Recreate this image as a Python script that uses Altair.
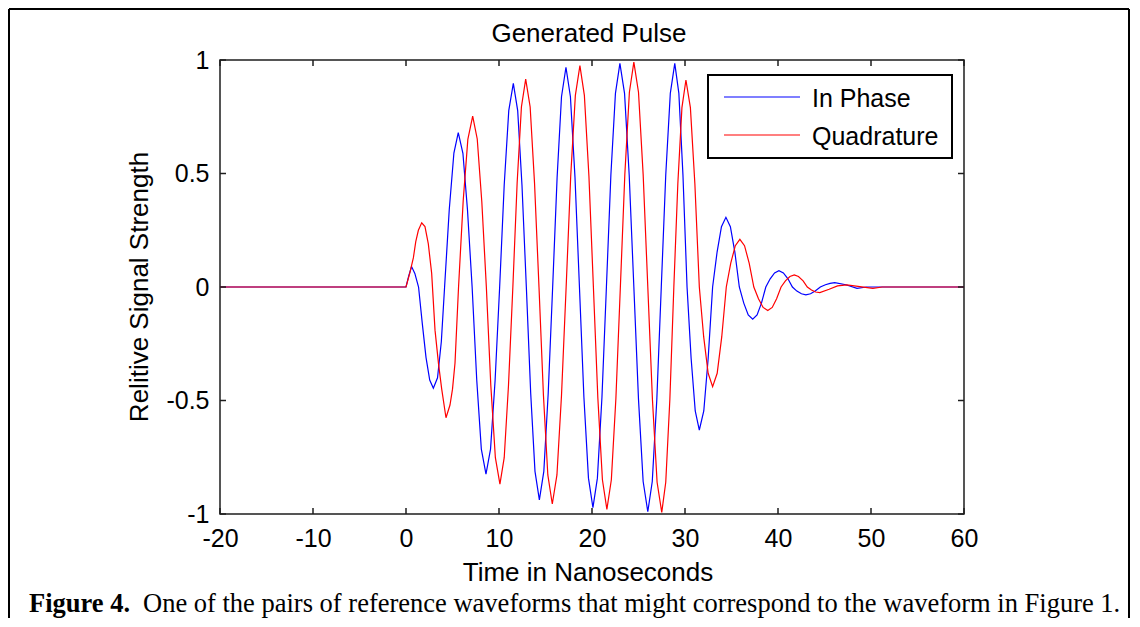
import altair as alt
import pandas as pd

# ---------------- data ----------------
blue_t = [-20, 0, 0.3, 0.6, 0.95, 1.35, 1.75, 2.15, 2.55, 2.94, 3.39, 3.80, 4.15, 4.65, 5.15, 5.62,
          6.12, 6.61, 7.11, 7.61, 8.10, 8.6, 9.09, 9.58, 10.07, 10.56, 11.05, 11.54,
          12.01, 12.47, 12.94, 13.41, 13.87, 14.34, 14.82, 15.29, 15.77, 16.25, 16.72, 17.2,
          17.68, 18.17, 18.65, 19.13, 19.62, 20.1, 20.58, 21.07, 21.55, 22.03, 22.52, 23.0,
          23.5, 24.0, 24.5, 25.0, 25.5, 26.0, 26.48, 26.97, 27.45, 27.93, 28.42, 28.9,
          29.34, 29.78, 30.22, 30.66, 31.1, 31.54, 32.02, 32.49, 32.97, 33.45, 33.92, 34.4,
          34.88, 35.36, 35.84, 36.32, 36.8, 37.28, 37.75, 38.22, 38.69, 39.16, 39.63, 40.1,
          40.58, 41.07, 41.55, 42.03, 42.52, 43.0, 43.5, 44.0, 44.55, 45.1, 45.6, 46.1,
          47.3, 48.5, 49.5, 60]
blue_v = [0, 0, 0.05, 0.09, 0.06, 0.0, -0.16, -0.31, -0.41, -0.446, -0.40, -0.24, 0.0, 0.34, 0.59, 0.68,
          0.589, 0.34, 0.0, -0.412, -0.714, -0.824, -0.714, -0.412, 0.0, 0.449, 0.777, 0.897,
          0.777, 0.449, 0.0, -0.469, -0.812, -0.938, -0.812, -0.469, 0.0, 0.484, 0.838, 0.968,
          0.838, 0.484, 0.0, -0.486, -0.842, -0.972, -0.842, -0.486, 0.0, 0.493, 0.853, 0.985,
          0.853, 0.493, 0.0, -0.495, -0.857, -0.99, -0.857, -0.495, 0.0, 0.493, 0.853, 0.985,
          0.853, 0.493, 0.0, -0.315, -0.546, -0.63, -0.546, -0.315, 0.0, 0.154, 0.266, 0.307,
          0.266, 0.154, 0.0, -0.071, -0.123, -0.142, -0.123, -0.071, 0.0, 0.036, 0.062, 0.072,
          0.062, 0.036, 0.0, -0.018, -0.03, -0.035, -0.03, -0.018, 0.0, 0.01, 0.016, 0.019,
          0.01, -0.006, 0.0, 0.0]

red_t = [-20, 0, 0.4, 0.79, 1.05, 1.33, 1.69, 2.04, 2.4, 2.76,
         3.12, 3.5, 3.84, 4.3, 4.73, 5.0, 5.27, 5.65, 6.15, 6.65, 7.17,
         7.66, 8.15, 8.64, 9.12, 9.61, 10.1, 10.56, 11.02, 11.49, 11.95, 12.41, 12.87,
         13.35, 13.82, 14.3, 14.78, 15.25, 15.73, 16.23, 16.72, 17.22, 17.71, 18.21, 18.7,
         19.18, 19.67, 20.15, 20.63, 21.12, 21.6, 22.08, 22.57, 23.05, 23.53, 24.02, 24.5,
         25.0, 25.5, 26.0, 26.5, 27.0, 27.5, 27.93, 28.37, 28.8, 29.23, 29.67, 30.1,
         30.58, 31.06, 31.54, 32.01, 32.49, 32.97, 33.46, 33.95, 34.44, 34.92, 35.41, 35.9,
         36.4, 36.9, 37.4, 37.9, 38.4, 38.9, 39.38, 39.85, 40.33, 40.8, 41.28, 41.75,
         42.2, 42.7, 43.15, 43.6, 44.05, 44.5, 45.5, 46.4, 47.4, 48.8, 50.2, 51.2, 60]
red_v = [0, 0, 0.06, 0.128, 0.2, 0.25, 0.283, 0.266, 0.19, 0.06,
         -0.19, -0.34, -0.45, -0.576, -0.52, -0.45, -0.335, 0.0, 0.38, 0.65, 0.753,
         0.652, 0.377, 0.0, -0.434, -0.752, -0.868, -0.752, -0.434, 0.0, 0.458, 0.793, 0.916,
         0.793, 0.458, 0.0, -0.478, -0.828, -0.956, -0.828, -0.478, 0.0, 0.488, 0.844, 0.975,
         0.844, 0.488, 0.0, -0.49, -0.849, -0.98, -0.849, -0.49, 0.0, 0.496, 0.858, 0.991,
         0.858, 0.496, 0.0, -0.497, -0.86, -0.993, -0.86, -0.497, 0.0, 0.456, 0.79, 0.912,
         0.79, 0.456, 0.0, -0.22, -0.38, -0.439, -0.38, -0.22, 0.0, 0.105, 0.182, 0.21,
         0.182, 0.105, 0.0, -0.052, -0.09, -0.104, -0.09, -0.052, 0.0, 0.027, 0.046, 0.053,
         0.046, 0.027, 0.0, -0.013, -0.022, -0.025, -0.01, 0.005, 0.009, 0.002, -0.006, 0.0, 0.0]

series_names = ["In Phase", "Quadrature"]
series_colors = ["#0000ff", "#ff0000"]
x_ticks = [-20, -10, 0, 10, 20, 30, 40, 50, 60]
y_ticks = [-1, -0.5, 0, 0.5, 1]
chart_title = "Generated Pulse"
x_title = "Time in Nanoseconds"
y_title = "Relitive Signal Strength"
caption_bold = "Figure 4."
caption_text = "One of the pairs of reference waveforms that might correspond to the waveform in Figure 1."

# ---------------- layout / style ----------------
W, H = 744, 454
SANS = "Liberation Sans"
SERIF = "Liberation Serif"
AX = "#1e1e1e"

df_blue = pd.DataFrame({"t": blue_t, "v": blue_v})
df_red = pd.DataFrame({"t": red_t, "v": red_v})
df_xt = pd.DataFrame({"t": x_ticks})
df_yt = pd.DataFrame({"v": y_ticks})
one = pd.DataFrame({"k": [0]})

xscale = alt.Scale(domain=[-20, 60], nice=False, zero=False)
yscale = alt.Scale(domain=[-1, 1], nice=False, zero=False)
common_axis = dict(title=None, grid=False, ticks=False, domain=False,
                   labelFont=SANS, labelFontSize=25, labelColor="black",
                   labelFlush=False, labelOverlap=False, labelBound=False,
                   labelExpr="toString(datum.value)")
X = alt.X("t:Q", scale=xscale, axis=alt.Axis(values=x_ticks, labelPadding=12, **common_axis))
Y = alt.Y("v:Q", scale=yscale, axis=alt.Axis(values=y_ticks, labelPadding=11, **common_axis))

layers = []

# outer figure frame
layers.append(alt.Chart(one).mark_rule(color="black", strokeWidth=2).encode(
    x=alt.value(-211), y=alt.value(-51), y2=alt.value(560)))
layers.append(alt.Chart(one).mark_rule(color="black", strokeWidth=2).encode(
    x=alt.value(-211), x2=alt.value(909), y=alt.value(-51)))
layers.append(alt.Chart(one).mark_rule(color="black", strokeWidth=2).encode(
    x=alt.value(909), y=alt.value(-51), y2=alt.value(560)))

# data lines
layers.append(alt.Chart(df_blue).mark_line(color=series_colors[0], strokeWidth=1.2).encode(x=X, y=Y))
layers.append(alt.Chart(df_red).mark_line(color=series_colors[1], strokeWidth=1.2).encode(x=X, y=Y))

# inward ticks on all four sides
layers.append(alt.Chart(df_xt).mark_rule(color=AX, strokeWidth=1.5).encode(
    x=X, y=alt.value(H), y2=alt.value(H - 6)))
layers.append(alt.Chart(df_xt).mark_rule(color=AX, strokeWidth=1.5).encode(
    x=X, y=alt.value(0), y2=alt.value(6)))
layers.append(alt.Chart(df_yt).mark_rule(color=AX, strokeWidth=1.5).encode(
    y=Y, x=alt.value(0), x2=alt.value(6)))
layers.append(alt.Chart(df_yt).mark_rule(color=AX, strokeWidth=1.5).encode(
    y=Y, x=alt.value(W), x2=alt.value(W - 6)))

# legend box
layers.append(alt.Chart(one).mark_rect(fill="white", stroke="black", strokeWidth=2).encode(
    x=alt.value(488), x2=alt.value(732), y=alt.value(15), y2=alt.value(98)))
for i, (name, col) in enumerate(zip(series_names, series_colors)):
    layers.append(alt.Chart(one).mark_rule(color=col, strokeWidth=1.2).encode(
        x=alt.value(504), x2=alt.value(580), y=alt.value(37 + 38 * i)))
    layers.append(alt.Chart(pd.DataFrame({"name": [name]})).mark_text(
        font=SANS, fontSize=25, align="left", baseline="middle", color="black").encode(
        text="name:N", x=alt.value(592), y=alt.value(39 + 38 * i)))

# titles
layers.append(alt.Chart(pd.DataFrame({"s": [chart_title]})).mark_text(
    font=SANS, fontSize=26, align="center", baseline="alphabetic", color="black").encode(
    text="s:N", x=alt.value(369), y=alt.value(-18)))
layers.append(alt.Chart(pd.DataFrame({"s": [x_title]})).mark_text(
    font=SANS, fontSize=26, align="center", baseline="alphabetic", color="black").encode(
    text="s:N", x=alt.value(368), y=alt.value(521)))
layers.append(alt.Chart(pd.DataFrame({"s": [y_title]})).mark_text(
    font=SANS, fontSize=26, align="center", baseline="middle", angle=270, color="black").encode(
    text="s:N", x=alt.value(-80), y=alt.value(227)))

# caption
layers.append(alt.Chart(pd.DataFrame({"s": [caption_bold]})).mark_text(
    font=SERIF, fontSize=26.5, fontWeight="bold", align="left", baseline="alphabetic", color="black").encode(
    text="s:N", x=alt.value(-191), y=alt.value(552)))
layers.append(alt.Chart(pd.DataFrame({"s": [caption_text]})).mark_text(
    font=SERIF, fontSize=26.5, align="left", baseline="alphabetic", color="black").encode(
    text="s:N", x=alt.value(-77), y=alt.value(552)))

chart = alt.layer(*layers).properties(
    width=W, height=H,
    autosize=alt.AutoSizeParams(type="none"),
    padding={"left": 212, "top": 52, "right": 166, "bottom": 104},
    background="white",
).configure_view(stroke=AX, strokeWidth=1.5)

chart.save("out.html", embed_options={"renderer": "svg", "actions": False})
